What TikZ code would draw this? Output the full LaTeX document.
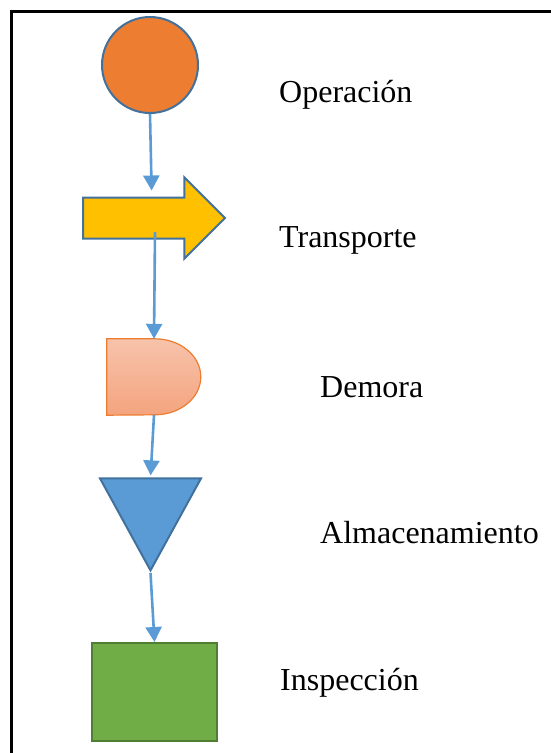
\documentclass[tikz,border=0pt]{standalone}
\usepackage{fontspec}
\setmainfont{Liberation Serif}
\usepackage{tikz}
\usetikzlibrary{arrows.meta, positioning, shapes.arrows, shapes.geometric}
\definecolor{opfill}{HTML}{ED7D31}
\definecolor{edgeblue}{HTML}{41719C}
\definecolor{flowblue}{HTML}{5B9BD5}
\definecolor{trfill}{HTML}{FFC000}
\definecolor{demtop}{HTML}{F7C3AB}
\definecolor{dembot}{HTML}{F4A47E}
\definecolor{insfill}{HTML}{70AD47}
\definecolor{insedge}{HTML}{507E32}
\tikzset{%
	op/.style={draw=edgeblue, line width=2pt, circle, minimum size=96pt, inner sep=0pt, fill=opfill},
	tr/.style={draw=edgeblue, line width=2pt, single arrow, minimum height=142pt, minimum width=79pt,%
		text height=19.5pt, text depth=19.5pt, single arrow head extend=20pt, single arrow tip angle=90,%
		inner sep=0pt, fill=trfill},
	dem/.style={rectangle, minimum width=94pt, minimum height=76pt, inner sep=0pt},
	demshape/.style={draw=opfill, line width=1.2pt, top color=demtop, bottom color=dembot},
	alm/.style={draw=edgeblue, line width=2pt, isosceles triangle, isosceles triangle stretches,%
		shape border rotate=270, minimum width=101pt, minimum height=92pt, inner sep=0pt, fill=flowblue},
	ins/.style={draw=insedge, line width=2pt, rectangle, minimum width=125pt, minimum height=98pt, fill=insfill},
	flow/.style={-{Triangle[width=16pt, length=15pt]}, line width=2.6pt, draw=flowblue},
	lbl/.style={anchor=base west, inner sep=0pt, font=\fontsize{32}{38}\selectfont}
}
\begin{document}
\begin{tikzpicture}[x=1pt, y=-1pt]
	\useasboundingbox (0,0) rectangle (551,753);
	\draw[line width=3pt] (11,770) -- (11,11.5) -- (570,11.5);

	\node[op] (oper) at (150,65) {};
	\node[tr, anchor=tail] (trans) at (82,218) {};
	\node[dem] (dem) at (154,377) {};
	\node[alm, anchor=apex] (alm) at (150.5,573) {};
	\node[ins] (insp) at (154.5,692) {};
	\coordinate (trout) at (155,232);

	% the delay box: flat left side, rounded right side
	\path[demshape] (dem.south west) -- (dem.north west) -- ++(48,0)
		arc[start angle=90, end angle=-90, x radius=46, y radius=-38] -- cycle;

	\draw[flow, shorten >=6pt] (oper.south) -- ([xshift=8pt]trans.north);
	\draw[flow] (trout) -- (dem.north);
	\draw[flow, shorten >=2pt] (dem.south) -- (alm.north);
	\draw[flow] (alm.south) -- (insp.north);

	\node[lbl] (loper) at (279,102) {Operación};
	\node[lbl] (ltrans) at (279,247) {Transporte};
	\node[lbl] (ldem) at (320,397) {Demora};
	\node[lbl] (lalm) at (320,543) {Almacenamiento};
	\node[lbl] (linsp) at (280,690) {Inspección};
\end{tikzpicture}
\end{document}
